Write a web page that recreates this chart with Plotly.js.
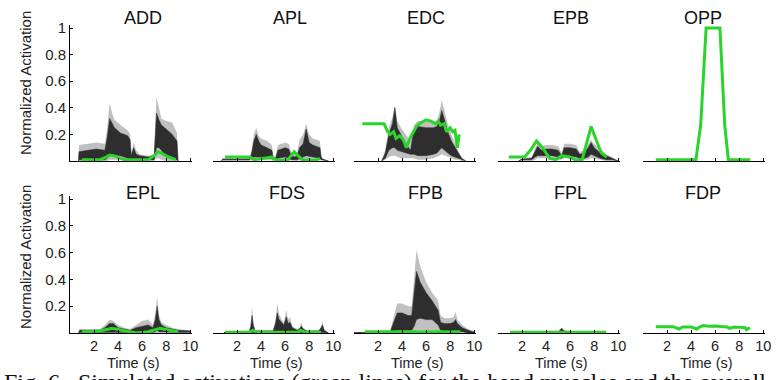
<!DOCTYPE html>
<html><head><meta charset="utf-8">
<script src="https://cdn.plot.ly/plotly-3.0.1.min.js"></script>
<style>html,body{margin:0;padding:0;background:#fff;}#chart{width:776px;height:380px;}</style>
</head><body><div id="chart"></div>
<script>
// ---------- labels ----------
const muscles = ["ADD","APL","EDC","EPB","OPP","EPL","FDS","FPB","FPL","FDP"];
const xTickVals = [2,4,6,8,10];
const xTickText = ["2","4","6","8","10"];
const yTickVals = [0.2,0.4,0.6,0.8,1];
const yTickText = ["0.2","0.4","0.6","0.8","1"];
const yTitle = "Normalized Activation";
const xTitle = "Time (s)";
const caption = "Fig. 6.  Simulated activations (green lines) for the hand muscles and the overall";

// ---------- ADD ----------
const addT       = [0.7,0.75,1.5,2.2,2.9,3.1,3.3,3.5,3.7,4.2,4.8,5.0,5.1,5.3,5.5,5.8,6.5,7.0,7.1,7.2,7.4,7.6,8.0,8.5,8.9,9.0];
const addLightHi = [0,0.12,0.13,0.14,0.13,0.25,0.44,0.36,0.31,0.27,0.23,0.2,0.06,0.14,0.08,0.05,0.04,0.05,0.3,0.48,0.4,0.32,0.3,0.29,0.21,0];
const addDarkHi  = [0,0.07,0.08,0.09,0.08,0.18,0.32,0.28,0.25,0.21,0.19,0.16,0.04,0.1,0.05,0.04,0.03,0.04,0.22,0.36,0.31,0.27,0.24,0.2,0.15,0];
const addDarkLo  = [0,0.01,0.01,0.01,0.01,0.02,0.04,0.05,0.05,0.04,0.02,0.02,0.01,0.01,0.01,0.01,0.01,0.01,0.05,0.1,0.1,0.08,0.03,0.02,0.01,0];
const addLightLo = [0,0,0,0,0,0,0.01,0.01,0.01,0.01,0,0,0,0,0,0,0,0,0.01,0.02,0.02,0.01,0,0,0,0];
const addGreenT  = [1.0,2.5,3.0,3.3,3.6,4.5,5.0,6.5,7.0,7.3,7.6,8.2,8.8];
const addGreen   = [0.01,0.01,0.03,0.045,0.04,0.01,0.01,0.01,0.04,0.07,0.06,0.03,0.01];

// ---------- APL ----------
const aplT       = [0.7,0.8,3.0,3.2,3.4,3.6,3.8,4.0,4.5,4.9,5.0,5.2,5.4,6.0,6.3,6.5,6.8,7.0,7.2,7.5,7.75,8.0,8.3,8.9,9.0,9.1,9.6];
const aplLightHi = [0,0.02,0.02,0.08,0.2,0.25,0.19,0.17,0.15,0.12,0.04,0.03,0.12,0.14,0.13,0.07,0.05,0.06,0.16,0.2,0.28,0.2,0.17,0.15,0.04,0.02,0];
const aplDarkHi  = [0,0.015,0.015,0.05,0.15,0.2,0.15,0.12,0.1,0.08,0.03,0.02,0.08,0.1,0.09,0.04,0.03,0.04,0.1,0.13,0.24,0.14,0.12,0.1,0.03,0.015,0];
const aplDarkLo  = [0,0.01,0.01,0.02,0.03,0.03,0.03,0.03,0.02,0.02,0.01,0.01,0.02,0.03,0.02,0.01,0.01,0.01,0.02,0.03,0.04,0.04,0.03,0.02,0.01,0.01,0];
const aplLightLo = [0,0,0,0.005,0.01,0.01,0.01,0.01,0.005,0.005,0,0,0.005,0.01,0.005,0,0,0,0.005,0.01,0.01,0.01,0.01,0.005,0,0,0];
const aplGreenT  = [1.0,3.1,3.4,4.0,4.9,5.3,6.2,6.75,7.4,8.5,8.9];
const aplGreen   = [0.03,0.03,0.01,0.02,0.03,0.005,0.005,0.07,0.01,0.005,0.02];

// ---------- EDC ----------
const edcT       = [2.3,2.6,2.9,3.2,3.4,3.6,3.9,4.3,4.7,5.0,5.3,6.0,6.6,6.9,7.1,7.3,7.5,7.8,8.1,8.4,8.7,8.95,9.3];
const edcLightHi = [0,0.08,0.25,0.33,0.42,0.3,0.25,0.2,0.15,0.27,0.3,0.3,0.29,0.3,0.36,0.46,0.38,0.28,0.2,0.13,0.07,0.03,0];
const edcDarkHi  = [0,0.06,0.2,0.28,0.4,0.25,0.2,0.13,0.08,0.24,0.26,0.25,0.25,0.26,0.3,0.38,0.32,0.22,0.15,0.1,0.05,0.02,0];
const edcDarkLo  = [0,0.02,0.08,0.1,0.1,0.08,0.07,0.06,0.05,0.05,0.04,0.04,0.05,0.06,0.08,0.1,0.08,0.06,0.04,0.03,0.02,0.01,0];
const edcLightLo = [0,0.01,0.03,0.04,0.04,0.03,0.02,0.02,0.02,0.02,0.01,0.01,0.02,0.03,0.04,0.05,0.04,0.03,0.02,0.01,0.01,0,0];
const edcGreenT  = [0.7,2.5,2.8,3.0,3.3,3.5,3.8,4.1,4.35,4.7,5.2,5.6,6.0,6.4,6.8,7.0,7.2,7.5,7.7,8.0,8.2,8.4,8.6,8.75];
const edcGreen   = [0.28,0.28,0.22,0.2,0.22,0.17,0.19,0.16,0.1,0.18,0.26,0.29,0.31,0.3,0.28,0.3,0.27,0.28,0.22,0.25,0.22,0.23,0.1,0.2];

// ---------- EPB ----------
const epbT       = [1.7,2.0,2.8,3.1,3.3,3.6,4.0,4.5,5.0,5.3,5.5,6.0,6.5,6.8,7.2,7.5,7.75,8.0,8.5,9.0,9.5,10.0];
const epbLightHi = [0,0.02,0.03,0.1,0.13,0.11,0.12,0.12,0.11,0.06,0.13,0.13,0.12,0.07,0.08,0.12,0.16,0.13,0.09,0.05,0.03,0];
const epbDarkHi  = [0,0.015,0.02,0.07,0.11,0.08,0.09,0.09,0.08,0.04,0.1,0.1,0.09,0.05,0.06,0.1,0.14,0.1,0.06,0.04,0.02,0];
const epbDarkLo  = [0,0.01,0.01,0.03,0.04,0.04,0.04,0.04,0.03,0.02,0.04,0.04,0.03,0.02,0.02,0.03,0.05,0.04,0.02,0.01,0.01,0];
const epbLightLo = [0,0,0,0.01,0.02,0.02,0.02,0.02,0.01,0.01,0.02,0.02,0.01,0.01,0.01,0.01,0.02,0.02,0.01,0,0,0];
const epbGreenT  = [0.9,2.2,2.7,3.2,3.7,4.3,4.8,5.3,6.0,6.5,7.0,7.4,7.75,8.2,8.6,9.05];
const epbGreen   = [0.03,0.03,0.08,0.15,0.1,0.02,0.01,0.04,0.03,0.005,0.01,0.15,0.26,0.15,0.06,0.03];

// ---------- OPP ----------
const oppGreenT  = [1.07,4.4,4.8,5.25,6.4,6.8,7.1,8.9];
const oppGreen   = [0.01,0.01,0.27,1.0,1.0,0.27,0.01,0.01];

// ---------- EPL ----------
const eplT       = [0.7,0.8,2.5,2.9,3.3,3.6,4.0,4.5,5.0,5.5,6.0,6.5,6.9,7.1,7.25,7.4,7.6,8.0,8.5,9.0,10.0];
const eplLightHi = [0,0.03,0.03,0.06,0.1,0.09,0.06,0.04,0.03,0.06,0.09,0.1,0.06,0.15,0.27,0.13,0.08,0.06,0.04,0.03,0.02];
const eplDarkHi  = [0,0.02,0.02,0.04,0.07,0.07,0.04,0.03,0.02,0.04,0.05,0.06,0.04,0.1,0.2,0.1,0.06,0.04,0.03,0.02,0.015];
const eplDarkLo  = [0,0.005,0.005,0.005,0.01,0.01,0.005,0.005,0.005,0.005,0.01,0.01,0.005,0.01,0.02,0.01,0.005,0.005,0.005,0.005,0.005];
const eplLightLo = [0,0,0,0,0,0,0,0,0,0,0,0,0,0,0,0,0,0,0,0,0];
const eplGreenT  = [1.0,2.5,3.5,4.5,5.5,6.5,7.5,8.3,9.0];
const eplGreen   = [0.01,0.015,0.035,0.015,0.0,0.01,0.035,0.02,0.01];

// ---------- FDS ----------
const fdsT       = [0.9,1.0,3.0,3.15,3.25,3.35,3.5,5.0,5.2,5.35,5.5,5.7,5.9,6.1,6.25,6.4,6.6,7.0,7.2,7.35,7.5,7.8,8.8,9.0,9.1,9.25,9.6];
const fdsLightHi = [0,0.01,0.01,0.08,0.2,0.08,0.02,0.02,0.1,0.22,0.14,0.1,0.08,0.17,0.1,0.12,0.05,0.03,0.04,0.08,0.04,0.02,0.02,0.05,0.09,0.03,0];
const fdsDarkHi  = [0,0.008,0.008,0.05,0.13,0.06,0.015,0.015,0.07,0.15,0.1,0.08,0.06,0.12,0.07,0.08,0.04,0.02,0.03,0.05,0.03,0.015,0.015,0.04,0.06,0.02,0];
const fdsDarkLo  = [0,0.003,0.003,0.003,0.005,0.003,0.003,0.003,0.003,0.005,0.005,0.003,0.003,0.005,0.003,0.003,0.003,0.003,0.003,0.003,0.003,0.003,0.003,0.003,0.003,0.003,0];
const fdsLightLo = [0,0,0,0,0,0,0,0,0,0,0,0,0,0,0,0,0,0,0,0,0,0,0,0,0,0,0];
const fdsGreenT  = [1.0,3.0,3.3,3.7,5.0,7.0,7.3,7.7,9.0];
const fdsGreen   = [0.005,0.005,0.02,0.005,0.005,0.005,0.02,0.005,0.005];

// ---------- FPB ----------
const fpbT       = [0.0,0.5,3.0,3.3,3.6,4.0,4.5,4.8,5.0,5.2,5.5,6.0,6.5,7.0,7.2,7.5,8.0,8.3,8.45,8.6,9.0,9.5,10.0];
const fpbLightHi = [0.005,0.005,0.01,0.12,0.22,0.22,0.2,0.2,0.4,0.62,0.5,0.38,0.3,0.24,0.13,0.11,0.11,0.12,0.16,0.1,0.06,0.03,0.01];
const fpbDarkHi  = [0.003,0.003,0.007,0.08,0.15,0.15,0.13,0.13,0.3,0.46,0.38,0.3,0.24,0.17,0.08,0.07,0.07,0.08,0.1,0.07,0.04,0.02,0.007];
const fpbDarkLo  = [0,0,0,0.01,0.02,0.02,0.02,0.02,0.05,0.1,0.11,0.1,0.1,0.06,0.02,0.01,0.01,0.01,0.01,0.01,0.01,0,0];
const fpbLightLo = [0,0,0,0,0.005,0.005,0.005,0.005,0.01,0.02,0.02,0.02,0.02,0.01,0.005,0,0,0,0,0,0,0,0];
const fpbGreenT  = [0.9,3.0,5.0,7.0,8.85];
const fpbGreen   = [0.01,0.01,0.01,0.01,0.01];

// ---------- FPL ----------
const fplT       = [4.8,5.1,5.3,5.5,6.0,6.5,7.0];
const fplLightHi = [0,0.02,0.04,0.02,0.015,0.01,0];
const fplDarkHi  = [0,0.015,0.035,0.015,0.01,0.005,0];
const fplDarkLo  = [0,0,0,0,0,0,0];
const fplLightLo = [0,0,0,0,0,0,0];
const fplGreenT  = [1.0,3.0,5.0,7.0,9.0];
const fplGreen   = [0.005,0.005,0.005,0.005,0.005];

// ---------- FDP ----------
const fdpGreenT  = [1.07,2.5,3.0,3.3,4.0,4.5,4.7,5.0,5.5,6.0,6.5,7.0,7.2,7.6,8.0,8.5,8.6,8.9];
const fdpGreen   = [0.047,0.047,0.03,0.045,0.045,0.03,0.045,0.055,0.05,0.052,0.048,0.045,0.035,0.045,0.042,0.04,0.025,0.04];

// ---------- assemble ----------
const panelData = {
  ADD:{t:addT,lh:addLightHi,ll:addLightLo,dh:addDarkHi,dl:addDarkLo,gt:addGreenT,g:addGreen},
  APL:{t:aplT,lh:aplLightHi,ll:aplLightLo,dh:aplDarkHi,dl:aplDarkLo,gt:aplGreenT,g:aplGreen},
  EDC:{t:edcT,lh:edcLightHi,ll:edcLightLo,dh:edcDarkHi,dl:edcDarkLo,gt:edcGreenT,g:edcGreen},
  EPB:{t:epbT,lh:epbLightHi,ll:epbLightLo,dh:epbDarkHi,dl:epbDarkLo,gt:epbGreenT,g:epbGreen},
  OPP:{t:[],lh:[],ll:[],dh:[],dl:[],gt:oppGreenT,g:oppGreen},
  EPL:{t:eplT,lh:eplLightHi,ll:eplLightLo,dh:eplDarkHi,dl:eplDarkLo,gt:eplGreenT,g:eplGreen},
  FDS:{t:fdsT,lh:fdsLightHi,ll:fdsLightLo,dh:fdsDarkHi,dl:fdsDarkLo,gt:fdsGreenT,g:fdsGreen},
  FPB:{t:fpbT,lh:fpbLightHi,ll:fpbLightLo,dh:fpbDarkHi,dl:fpbDarkLo,gt:fpbGreenT,g:fpbGreen},
  FPL:{t:fplT,lh:fplLightHi,ll:fplLightLo,dh:fplDarkHi,dl:fplDarkLo,gt:fplGreenT,g:fplGreen},
  FDP:{t:[],lh:[],ll:[],dh:[],dl:[],gt:fdpGreenT,g:fdpGreen}
};

const W = 776, H = 380;
const colPx = [[70,192],[213,335],[354,476],[498,620],[643,765]];
const rowPx = [{y0:161,unit:133},{y0:333,unit:134}];
const titlePx = [[143,18],[290,18],[426,18],[571,18],[703,18],[143,193],[287,193],[425,193],[570,193],[703,193]];
const yMax = 1.02;
const FONT = "Liberation Sans, Arial, sans-serif";
const LIGHT = "#c0c0c0", DARK = "#2e2e2e", GREEN = "#2ad42a";

const traces = [];
const layout = {
  width: W, height: H,
  margin:{l:0,r:0,t:0,b:0},
  paper_bgcolor:"#fff", plot_bgcolor:"rgba(0,0,0,0)",
  showlegend:false, hovermode:false,
  font:{family:FONT, color:"#222", size:14},
  annotations:[]
};

function poly(t, hi, lo){
  return {x: t.concat(t.slice().reverse()), y: hi.concat(lo.slice().reverse())};
}

muscles.forEach((m, i) => {
  const row = Math.floor(i/5), col = i%5;
  const n = i+1;
  const xa = "x"+(n===1?"":n), ya = "y"+(n===1?"":n);
  const d = panelData[m];
  if (d.t.length){
    const pl = poly(d.t, d.lh, d.ll);
    traces.push({x:pl.x,y:pl.y,xaxis:xa,yaxis:ya,type:"scatter",mode:"lines",fill:"toself",
      fillcolor:LIGHT,line:{width:0,color:LIGHT}});
    const pd = poly(d.t, d.dh, d.dl);
    traces.push({x:pd.x,y:pd.y,xaxis:xa,yaxis:ya,type:"scatter",mode:"lines",fill:"toself",
      fillcolor:DARK,line:{width:0.5,color:DARK}});
  }
  traces.push({x:d.gt,y:d.g,xaxis:xa,yaxis:ya,type:"scatter",mode:"lines",
    line:{color:GREEN,width:3}});

  const cp = colPx[col], rp = rowPx[row];
  const xk = "xaxis"+(n===1?"":n), yk = "yaxis"+(n===1?"":n);
  layout[xk] = {
    domain:[cp[0]/W, cp[1]/W], range:[0,10.15], anchor:ya,
    showline:true, linecolor:"#000", linewidth:1, mirror:false,
    ticks:"inside", ticklen:3, tickwidth:1, tickcolor:"#000",
    tickvals:xTickVals, ticktext:xTickText, showticklabels: row===1,
    tickfont:{family:FONT,size:14.5,color:"#222"},
    showgrid:false, zeroline:false, fixedrange:true
  };
  const yb = 1 - rp.y0/H, yt = 1 - (rp.y0 - rp.unit*yMax)/H;
  layout[yk] = {
    domain:[yb, yt], range:[0,yMax], anchor:xa,
    showline: col===0, linecolor:"#000", linewidth:1,
    ticks: col===0 ? "inside" : "", ticklen:3, tickcolor:"#000",
    tickvals:yTickVals, ticktext:yTickText, showticklabels: col===0,
    tickfont:{family:FONT,size:15,color:"#222"},
    showgrid:false, zeroline:false, fixedrange:true
  };
  layout.annotations.push({text:m, xref:"paper", yref:"paper",
    x:titlePx[i][0]/W, y:1-titlePx[i][1]/H, xanchor:"center", yanchor:"middle",
    showarrow:false, font:{family:FONT,size:18,color:"#111"}});
  if (row===1){
    layout.annotations.push({text:xTitle, xref:"paper", yref:"paper",
      x:((cp[0]+cp[1])/2+2)/W, y:1-363/H, xanchor:"center", yanchor:"middle", borderpad:0,
      showarrow:false, font:{family:FONT,size:14.5,color:"#222"}});
  }
});

[83,257].forEach(py => {
  layout.annotations.push({text:yTitle, xref:"paper", yref:"paper",
    x:25/W, y:1-py/H, xanchor:"center", yanchor:"middle", textangle:-90,
    showarrow:false, font:{family:FONT,size:15,color:"#222"}});
});
layout.annotations.push({text:caption, xref:"paper", yref:"paper",
  x:3/W, y:1-368/H, xanchor:"left", yanchor:"top", borderpad:0,
  showarrow:false, font:{family:"Liberation Serif, Times New Roman, serif",size:24,color:"#111"}});

Plotly.newPlot("chart", traces, layout, {staticPlot:true, displayModeBar:false});
</script>
</body></html>
